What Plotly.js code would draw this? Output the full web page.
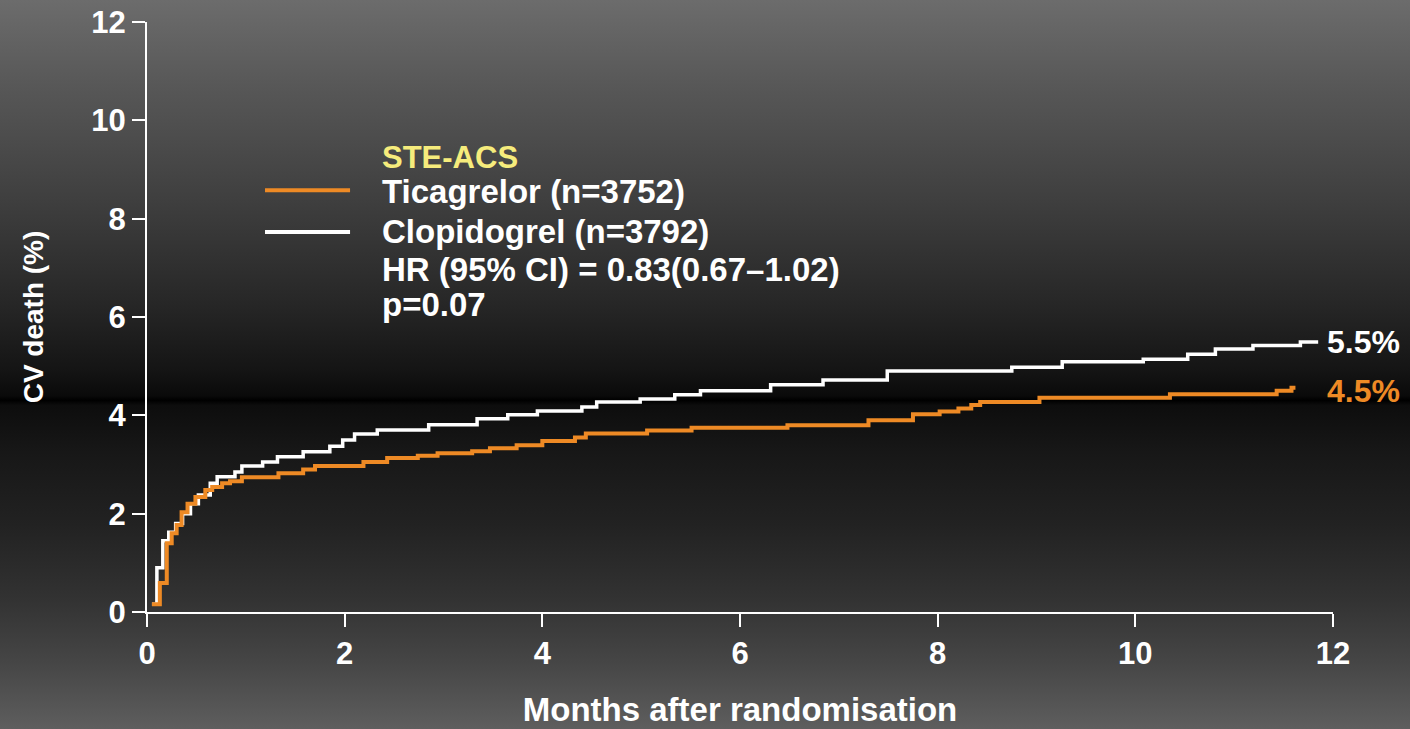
<!DOCTYPE html>
<html>
<head>
<meta charset="utf-8">
<script src="https://cdn.plot.ly/plotly-3.0.1.min.js"></script>
<style>
html, body { margin: 0; padding: 0; }
body {
  width: 1410px; height: 729px; overflow: hidden;
  background: linear-gradient(to bottom,
    #6c6c6c 0%, #575757 12%, #3e3e3e 28%, #262626 42%, #141414 51%,
    #0a0a0a 54.3%, #000000 54.9%, #0d0d0d 55.6%, #171717 62%,
    #222222 72%, #323232 82%, #464646 91%, #5e5e5e 100%);
}
#chart { width: 1410px; height: 729px; }
</style>
</head>
<body>
<div id="chart"></div>
<script>
// ---- data ----
const ticMonths = [0.05, 0.13, 0.20, 0.25, 0.30, 0.35, 0.41, 0.49, 0.59, 0.66, 0.76, 0.84, 0.96, 1.33, 1.58, 1.70, 2.19, 2.43, 2.74, 2.94, 3.29, 3.47, 3.74, 4.00, 4.33, 4.44, 5.06, 5.51, 6.48, 7.30, 7.75, 8.02, 8.21, 8.34, 8.43, 9.03, 10.35, 11.43, 11.58, 11.62];
const ticPct    = [0.16, 0.59, 1.40, 1.60, 1.77, 2.03, 2.20, 2.34, 2.48, 2.54, 2.62, 2.66, 2.74, 2.82, 2.90, 2.97, 3.05, 3.13, 3.18, 3.23, 3.27, 3.33, 3.39, 3.48, 3.55, 3.63, 3.69, 3.75, 3.80, 3.90, 4.02, 4.08, 4.14, 4.21, 4.27, 4.36, 4.43, 4.50, 4.56, 4.56];

const clopMonths = [0.05, 0.10, 0.16, 0.22, 0.29, 0.36, 0.44, 0.52, 0.64, 0.71, 0.89, 0.96, 1.17, 1.32, 1.58, 1.85, 1.98, 2.10, 2.33, 2.85, 3.34, 3.65, 3.95, 4.40, 4.55, 4.99, 5.34, 5.60, 6.31, 6.84, 7.49, 8.75, 9.26, 10.08, 10.53, 10.81, 11.19, 11.67, 11.85];
const clopPct    = [0.16, 0.90, 1.45, 1.62, 1.80, 2.00, 2.20, 2.38, 2.62, 2.75, 2.85, 2.97, 3.05, 3.16, 3.26, 3.37, 3.50, 3.62, 3.70, 3.81, 3.93, 4.01, 4.09, 4.17, 4.27, 4.33, 4.42, 4.50, 4.62, 4.72, 4.90, 4.98, 5.09, 5.14, 5.24, 5.35, 5.42, 5.49, 5.49];

const tickVals = [0, 2, 4, 6, 8, 10, 12];
const seriesNames = ['Ticagrelor (n=3752)', 'Clopidogrel (n=3792)'];
const groupTitle = 'STE-ACS';
const statsLines = ['HR (95% CI) = 0.83(0.67\u20131.02)', 'p=0.07'];
const endLabels = ['5.5%', '4.5%'];
const endLabelY = [5.5, 4.5];
const xTitle = 'Months after randomisation';
const yTitle = 'CV death (%)';

// ---- styles ----
const ORANGE = '#EE8A25';
const WHITE = '#FFFFFF';
const YELLOW = '#F6EC7C';
const FONT = 'Liberation Sans, Arial, Helvetica, sans-serif';
const bold = (size, color) => ({ family: FONT, size: size, color: color, weight: 'bold' });

const traces = [
  { x: clopMonths, y: clopPct, name: seriesNames[1], type: 'scatter', mode: 'lines',
    line: { color: WHITE, width: 3.5, shape: 'hv' } },
  { x: ticMonths, y: ticPct, name: seriesNames[0], type: 'scatter', mode: 'lines',
    line: { color: ORANGE, width: 4, shape: 'hv' } }
];

const textX = 0.1964;
const annotations = [
  { text: groupTitle, xref: 'paper', yref: 'paper', x: textX, y: 0.771, xanchor: 'left', yanchor: 'middle', showarrow: false, font: bold(31, YELLOW) },
  { text: seriesNames[0], xref: 'paper', yref: 'paper', x: textX, y: 0.712, xanchor: 'left', yanchor: 'middle', showarrow: false, font: bold(33, WHITE) },
  { text: seriesNames[1], xref: 'paper', yref: 'paper', x: textX, y: 0.645, xanchor: 'left', yanchor: 'middle', showarrow: false, font: bold(33, WHITE) },
  { text: statsLines[0], xref: 'paper', yref: 'paper', x: textX, y: 0.580, xanchor: 'left', yanchor: 'middle', showarrow: false, font: bold(33, WHITE) },
  { text: statsLines[1], xref: 'paper', yref: 'paper', x: textX, y: 0.522, xanchor: 'left', yanchor: 'middle', showarrow: false, font: bold(33, WHITE) },
  { text: endLabels[0], xref: 'x', yref: 'y', x: 12, y: endLabelY[0], xanchor: 'left', yanchor: 'middle', xshift: -8, showarrow: false, font: bold(32, WHITE) },
  { text: endLabels[1], xref: 'x', yref: 'y', x: 12, y: endLabelY[1], xanchor: 'left', yanchor: 'middle', xshift: -8, showarrow: false, font: bold(32, ORANGE) }
];

const shapes = [
  { type: 'line', xref: 'paper', yref: 'paper', x0: 0.0995, x1: 0.1712, y0: 0.715, y1: 0.715, line: { color: ORANGE, width: 4 } },
  { type: 'line', xref: 'paper', yref: 'paper', x0: 0.0995, x1: 0.1712, y0: 0.644, y1: 0.644, line: { color: WHITE, width: 4 } }
];

const axisCommon = {
  range: [0, 12], tickvals: tickVals, ticktext: tickVals.map(String),
  showline: true, linecolor: WHITE, linewidth: 2,
  ticks: 'outside', ticklen: 13, tickwidth: 2, tickcolor: WHITE,
  showgrid: false, zeroline: false, automargin: false,
  tickfont: bold(31, WHITE), fixedrange: true
};

const layout = {
  width: 1410, height: 729,
  margin: { l: 147, r: 77, t: 22, b: 117, pad: 0 },
  paper_bgcolor: 'rgba(0,0,0,0)', plot_bgcolor: 'rgba(0,0,0,0)',
  showlegend: false,
  xaxis: Object.assign({}, axisCommon, { title: { text: xTitle, font: bold(33, WHITE), standoff: 28 } }),
  yaxis: Object.assign({}, axisCommon, { title: { text: yTitle, font: bold(28, WHITE), standoff: 40 } }),
  annotations: annotations,
  shapes: shapes
};

Plotly.newPlot('chart', traces, layout, { staticPlot: true, displayModeBar: false });
</script>
</body>
</html>
